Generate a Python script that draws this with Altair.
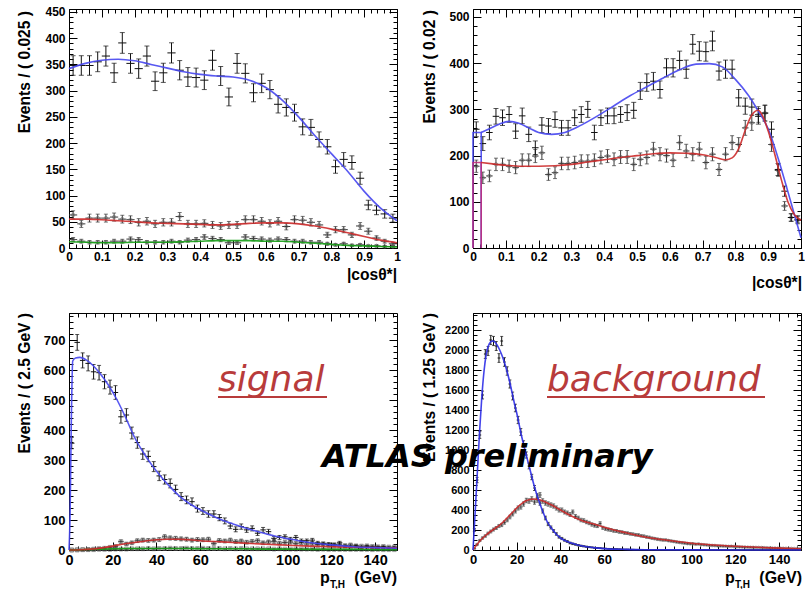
import math
import altair as alt
import pandas as pd

AX_FONT = "Liberation Sans"
ANN_FONT = "DejaVu Sans"
BLUE = "#4646f0"
RED = "#cc2a2a"
GREEN = "#15a015"
ANN_RED = "#b83b3b"
BAR_A = "#111111"
BAR_B = "#3a3a3a"
MARK_B = "#666666"

# ---------------- Panel 1: |cos theta*|, bins of 0.025 ----------------
p1_bin = 0.025
p1_data_total = [348, 348, 348, 355, 366, 334, 391, 352, 342, 366, 318, 334, 372, 339, 326, 325, 320, 358, 328, 288,
                 352, 333, 296, 314, 302, 274, 268, 258, 231, 230, 207, 193, 155, 169, 163, 133, 82, 72, 65, 57]
p1_data_red = [63, 46, 57, 57, 57, 59, 55, 54, 49, 51, 46, 49, 49, 60, 46, 46, 47, 44, 42, 44,
               44, 54, 54, 51, 47, 51, 41, 54, 53, 49, 44, 25, 35, 35, 25, 42, 32, 19, 13, 8]
p1_data_green = [16, 13, 11, 11, 11, 13, 13, 17, 16, 11, 11, 11, 13, 11, 15, 16, 21, 18, 16, 10,
                 10, 21, 18, 17, 15, 17, 16, 13, 13, 11, 11, 8, 6, 8, 5, 6, 4, 4, 3, 3]
p1_curve_x = [0, 0.05, 0.1, 0.15, 0.2, 0.25, 0.3, 0.35, 0.4, 0.45, 0.5, 0.55, 0.6, 0.65, 0.7, 0.75, 0.8, 0.85, 0.9, 0.95, 1.0]
p1_curve_blue = [342, 352, 358, 360, 357, 350, 343, 336, 331, 328, 326, 320, 306, 282, 250, 214, 180, 146, 108, 76, 52]
p1_curve_red = [55, 55, 54, 52, 50, 48, 47, 46, 45, 44, 45, 47, 48, 48, 46, 42, 36, 29, 22, 15, 10]
p1_curve_green = [12, 11, 10, 10, 11, 11, 11, 12, 13, 14, 14, 14, 13, 13, 11, 9, 7, 5, 4, 3, 2]

# ---------------- Panel 2: |cos theta*|, bins of 0.02 ----------------
p2_bin = 0.02
p2_data_total = [257, 226, 250, 285, 282, 289, 253, 286, 246, 217, 266, 264, 278, 260, 260, 282, 289, 300, 250, 282,
                 286, 286, 289, 293, 298, 340, 358, 361, 343, 390, 390, 406, 387, 441, 426, 425, 448, 383, 387, 387,
                 325, 307, 305, 285, 292, 257, 170, 123, 66, 62]
p2_data_red = [177, 152, 156, 181, 181, 177, 174, 190, 190, 199, 206, 159, 163, 183, 183, 185, 188, 188, 190, 196,
               199, 192, 197, 197, 181, 192, 196, 214, 203, 200, 190, 228, 210, 203, 214, 185, 203, 170, 203, 228,
               224, 260, 271, 289, 292, 224, 168, 91, 66, 60]
p2_blue_x = [0.025, 0.05, 0.08, 0.11, 0.14, 0.17, 0.2, 0.24, 0.28, 0.33, 0.38, 0.43, 0.48, 0.53, 0.58, 0.63, 0.68,
             0.72, 0.76, 0.8, 0.84, 0.87, 0.9, 0.93, 0.96, 0.98, 1.0]
p2_blue_y = [250, 258, 268, 274, 270, 260, 250, 246, 250, 266, 286, 308, 330, 349, 368, 386, 398,
             399, 392, 365, 330, 296, 258, 195, 122, 72, 22]
p2_red_x = [0.025, 0.06, 0.1, 0.15, 0.2, 0.25, 0.3, 0.35, 0.4, 0.45, 0.5, 0.55, 0.6, 0.65, 0.7, 0.74, 0.77, 0.79,
            0.81, 0.83, 0.85, 0.87, 0.88, 0.9, 0.92, 0.94, 0.96, 0.98, 1.0]
p2_red_y = [185, 182, 179, 177, 177, 178, 181, 186, 191, 196, 200, 204, 206, 205, 202, 196, 191, 195,
            215, 255, 288, 298, 290, 253, 203, 148, 100, 72, 60]
p2_spike_x = [0, 0, 0.025, 0.025]
p2_spike_blue = [0, 250, 250, 0]
p2_spike_red = [0, 185, 185, 0]

# ---------------- Panel 3: pT,H signal, bins of 2.5 GeV ----------------
p3_bin = 2.5
p3_data_total = [356, 692, 632, 622, 594, 591, 561, 543, 525, 444, 450, 390, 358, 320, 312, 278, 247, 235, 222, 202,
                 178, 167, 161, 138, 130, 120, 120, 108, 97, 80, 69, 78, 67, 72, 56, 67, 61, 39, 42, 44,
                 36, 42, 31, 31, 33, 24, 22, 20, 17, 24, 13, 11, 13, 9, 11, 9, 9, 9, 7, 7]
p3_data_red = [0, 1, 1, 2, 3, 5, 6, 9, 12, 28, 20, 24, 31, 33, 32, 33, 35, 44, 40, 39,
               37, 36, 33, 35, 34, 36, 22, 32, 30, 33, 28, 30, 26, 29, 31, 24, 27, 28, 23, 25,
               26, 22, 24, 20, 21, 18, 19, 17, 18, 16, 15, 17, 14, 13, 14, 12, 11, 12, 10, 10]
p3_data_green = [0, 0, 1, 1, 1, 2, 2, 2, 3, 3, 3, 4, 4, 4, 5, 4, 5, 5, 6, 5,
                 5, 6, 5, 5, 6, 5, 5, 5, 4, 5, 4, 5, 4, 4, 4, 4, 4, 3, 4, 3,
                 3, 3, 3, 3, 3, 2, 3, 2, 2, 2, 2, 2, 2, 2, 2, 1, 2, 1, 1, 1]
p3_blue_x = [0, 0.5, 1, 1.7, 3, 5, 8, 11, 14, 18, 22, 26, 30, 34, 38, 42, 46, 50, 55, 60, 65, 70, 75, 80, 85, 90,
             95, 100, 105, 110, 120, 130, 140, 150]
p3_blue_y = [0, 120, 400, 630, 640, 642, 633, 615, 590, 550, 500, 440, 375, 325, 282, 245, 212, 183, 155, 134, 116,
             100, 87, 75, 64, 54, 45, 38, 31, 25, 17, 11, 8, 6]
p3_rg_x = [0, 5, 10, 15, 20, 25, 30, 35, 40, 45, 50, 55, 60, 70, 80, 90, 100, 110, 120, 130, 140, 150]
p3_red_y = [0, 1, 3, 7, 13, 20, 25, 30, 34, 36, 36, 34, 31, 27, 23, 19, 16, 13, 11, 9, 8, 7]
p3_green_y = [0, 1, 2, 3, 4, 5, 5, 5, 5, 5, 5, 5, 4, 4, 4, 3, 3, 2, 2, 2, 1, 1]

# ---------------- Panel 4: pT,H background, bins of 1.25 GeV ----------------
p4_bin = 1.25
p4_data_blue = [200, 700, 1150, 1550, 1960, 1990, 2100, 2090, 2040, 1920,
                2090, 1880, 1790, 1660, 1540, 1420, 1300, 1180, 1060, 950,
                840, 730, 620, 540, 470, 390, 320, 260, 225, 190,
                160, 130, 115, 98, 85, 70, 62, 55, 48, 42,
                37, 33, 29, 26, 22, 20, 18, 16, 14, 12,
                11, 10, 9, 8, 7, 6, 6, 5, 5, 4,
                4, 3, 3, 3, 2, 2, 2, 2, 2, 1,
                1, 1, 1, 1, 1, 1, 1, 0, 1, 0,
                0, 1, 0, 0, 1, 0, 0, 0, 0, 0,
                0, 0, 0, 0, 0, 0, 0, 0, 0, 0,
                0, 0, 0, 0, 0, 0, 0, 0, 0, 0,
                0, 0, 0, 0, 0, 0, 0, 0, 0, 0]
p4_data_red = [15, 55, 95, 120, 140, 165, 185, 205, 220, 240,
               250, 275, 300, 330, 360, 390, 420, 430, 460, 495,
               490, 510, 480, 500, 550, 490, 470, 460, 450, 440,
               420, 400, 400, 380, 370, 355, 380, 335, 320, 300,
               295, 280, 270, 255, 245, 240, 265, 222, 212, 205,
               200, 192, 190, 182, 178, 170, 168, 162, 158, 152,
               150, 142, 138, 130, 126, 118, 114, 108, 104, 100,
               100, 94, 90, 85, 80, 76, 72, 68, 64, 62,
               62, 58, 60, 54, 52, 50, 47, 45, 44, 41,
               40, 39, 38, 36, 37, 34, 33, 31, 30, 29,
               28, 27, 26, 25, 25, 24, 23, 22, 21, 20,
               19, 18, 18, 17, 16, 15, 15, 14, 13, 13]
p4_blue_x = [0, 1, 2, 3, 4, 5, 6, 7, 8, 9, 10, 11, 12, 13, 14, 15, 16, 17, 18, 19, 20, 22, 24, 26, 28, 30, 32, 34,
             36, 38, 40, 42, 45, 50, 55, 60, 70, 80, 100, 150]
p4_blue_y = [0, 380, 780, 1180, 1520, 1780, 1950, 2040, 2080, 2090, 2080, 2050, 2010, 1960, 1900, 1830, 1750, 1660,
             1560, 1460, 1370, 1160, 980, 810, 640, 500, 380, 280, 215, 160, 120, 95, 70, 40, 24, 14, 6, 3, 1, 0]
p4_red_x = [0, 2, 4, 6, 8, 10, 12, 14, 16, 18, 20, 22, 24, 26, 28, 30, 32, 34, 36, 40, 45, 50, 55, 60, 65, 70, 80,
            90, 100, 110, 120, 130, 140, 150]
p4_red_y = [0, 60, 110, 150, 185, 215, 245, 285, 330, 375, 420, 460, 490, 505, 510, 505, 490, 470, 450, 400, 340,
            293, 262, 228, 197, 172, 125, 95, 68, 50, 37, 27, 19, 13]


# ---------------- helpers ----------------
def scales(xdom, ydom):
    return (alt.Scale(domain=xdom, nice=False, zero=False),
            alt.Scale(domain=ydom, nice=False, zero=False))


def tick_axis(orient, values, length, labels=False, size=12, pad=3, fmt="d"):
    kw = dict(orient=orient, values=values, grid=True, gridColor="black", gridOpacity=1,
              gridWidth=1, gridDash=[length, 4000], ticks=False, tickSize=0, domain=False,
              labels=labels, title=None)
    if labels:
        kw.update(labelFont=AX_FONT, labelFontSize=size, labelFontWeight="bold", labelColor="black",
                  labelPadding=pad, labelFlush=False, labelOverlap=False, format=fmt)
    return alt.Axis(**kw)


def frame_layers(xs, ys, xdom, ydom, xmaj, xmin, ymaj, ymin, xsize, ysize, xfmt):
    carrier = pd.DataFrame({"x": [xdom[0]], "y": [ydom[0]]})
    specs = [("bottom", xmaj, 8, "left", ymaj, 8, True),
             ("bottom", xmin, 4, "left", ymin, 4, False),
             ("top", xmaj, 8, "right", ymaj, 8, False),
             ("top", xmin, 4, "right", ymin, 4, False)]
    out = []
    for xo, xv, xl, yo, yv, yl, lab in specs:
        out.append(alt.Chart(carrier).mark_point(opacity=0).encode(
            x=alt.X("x:Q", scale=xs, axis=tick_axis(xo, xv, xl, lab, xsize, 3, xfmt)),
            y=alt.Y("y:Q", scale=ys, axis=tick_axis(yo, yv, yl, lab, ysize, 4, "d"))))
    return out


def bars_df(values, binw):
    rows = []
    for i, v in enumerate(values):
        c = binw * (i + 0.5)
        e = math.sqrt(v)  # Poisson error of the bin content
        rows.append({"x": c, "xl": c - binw / 2, "xh": c + binw / 2, "v": v,
                     "lo": max(v - e, 0), "hi": v + e})
    return pd.DataFrame(rows)


def err_layers(df, xs, ys, color, cap, marker=None, mcolor=None, msize=14):
    X = lambda f: alt.X(f, type="quantitative", scale=xs, axis=None)
    Y = lambda f: alt.Y(f, type="quantitative", scale=ys, axis=None)
    base = alt.Chart(df)
    out = [
        base.mark_rule(color=color, strokeWidth=1).encode(x=X("xl"), x2="xh", y=Y("v")),
        base.mark_rule(color=color, strokeWidth=1).encode(x=X("x"), y=Y("lo"), y2="hi"),
        base.mark_tick(color=color, orient="horizontal", size=cap, thickness=1).encode(x=X("x"), y=Y("lo")),
        base.mark_tick(color=color, orient="horizontal", size=cap, thickness=1).encode(x=X("x"), y=Y("hi")),
    ]
    if marker:
        out.append(base.mark_point(shape=marker, filled=False, size=msize, color=mcolor,
                                   strokeWidth=0.9).encode(x=X("x"), y=Y("v")))
    return out


def curve(xv, yv, color, xs, ys, width=1.6, interp="monotone"):
    df = pd.DataFrame({"x": xv, "y": yv, "i": list(range(len(xv)))})
    return alt.Chart(df).mark_line(color=color, strokeWidth=width, interpolate=interp, opacity=0.9).encode(
        x=alt.X("x:Q", scale=xs, axis=None), y=alt.Y("y:Q", scale=ys, axis=None), order="i:Q")


def label(text, x, y, size, align="left", baseline="alphabetic", font=AX_FONT, weight="bold",
          style="normal", color="black", angle=0):
    return alt.Chart(pd.DataFrame({"t": [text]})).mark_text(
        align=align, baseline=baseline, font=font, fontSize=size, fontWeight=weight,
        fontStyle=style, color=color, angle=angle).encode(x=alt.value(x), y=alt.value(y), text="t:N")


def underline(x1, x2, y, color):
    return alt.Chart(pd.DataFrame({"a": [0]})).mark_rule(color=color, strokeWidth=2).encode(
        x=alt.value(x1), x2=alt.value(x2), y=alt.value(y))


def ytitle(text, x, y):
    return label(text, x, y, 15.6, align="right", baseline="middle", angle=270)


W = 328
H_TOP = 239
H_BOT = 237

cos_major = [round(i * 0.1, 3) for i in range(11)]
cos_minor = [round(i * 0.02, 3) for i in range(51)]
pt_major = list(range(0, 141, 20))
pt_minor = list(range(0, 150, 4))

# ---------------- Panel 1 ----------------
xs, ys = scales([0, 1], [0, 455.7])
L = frame_layers(xs, ys, [0, 1], [0, 455.7], cos_major, cos_minor,
                 list(range(0, 451, 50)), list(range(0, 451, 10)), 12, 12, ".1~f")
L += err_layers(bars_df(p1_data_green, p1_bin), xs, ys, BAR_B, 4, "circle", MARK_B, 12)
L += err_layers(bars_df(p1_data_red, p1_bin), xs, ys, BAR_B, 4, "circle", MARK_B, 12)
L += err_layers(bars_df(p1_data_total, p1_bin), xs, ys, BAR_A, 5)
L += [curve(p1_curve_x, p1_curve_green, GREEN, xs, ys),
      curve(p1_curve_x, p1_curve_red, RED, xs, ys),
      curve(p1_curve_x, p1_curve_blue, BLUE, xs, ys)]
L += [ytitle("Events / ( 0.025 )", -44, 2),
      label("|cos\u03b8*|", 328, 271, 15.6, align="right")]
p1 = alt.layer(*L).resolve_axis(x="independent", y="independent").properties(width=W, height=H_TOP)

# ---------------- Panel 2 ----------------
xs, ys = scales([0, 1], [0, 517.3])
L = frame_layers(xs, ys, [0, 1], [0, 517.3], cos_major, cos_minor,
                 list(range(0, 501, 100)), list(range(0, 501, 20)), 12, 12, ".1~f")
L += err_layers(bars_df(p2_data_red, p2_bin), xs, ys, BAR_B, 4, "circle", MARK_B, 12)
L += err_layers(bars_df(p2_data_total, p2_bin), xs, ys, BAR_A, 5)
L += [curve(p2_spike_x, p2_spike_blue, BLUE, xs, ys, interp="linear"),
      curve(p2_blue_x, p2_blue_y, BLUE, xs, ys),
      curve(p2_spike_x, p2_spike_red, "#c0307a", xs, ys, interp="linear"),
      curve(p2_red_x, p2_red_y, RED, xs, ys)]
L += [ytitle("Events / ( 0.02 )", -43, 1),
      label("|cos\u03b8*|", 329, 279, 15.6, align="right")]
p2 = alt.layer(*L).resolve_axis(x="independent", y="independent").properties(width=W, height=H_TOP)

# ---------------- Panel 3 ----------------
xs, ys = scales([0, 150], [0, 790])
L = frame_layers(xs, ys, [0, 150], [0, 790], pt_major, pt_minor,
                 list(range(0, 701, 100)), list(range(0, 781, 20)), 14.5, 13, "d")
L += err_layers(bars_df(p3_data_green, p3_bin), xs, ys, BAR_B, 3, "square", MARK_B, 14)
L += err_layers(bars_df(p3_data_red, p3_bin), xs, ys, BAR_B, 3, "square", MARK_B, 14)
L += err_layers(bars_df(p3_data_total, p3_bin), xs, ys, BAR_A, 4)
L += [curve(p3_rg_x, p3_green_y, GREEN, xs, ys),
      curve(p3_rg_x, p3_red_y, RED, xs, ys),
      curve(p3_blue_x, p3_blue_y, BLUE, xs, ys)]
L += [ytitle("Events / ( 2.5 GeV )", -44, 0),
      label("p", 251, 270, 16),
      label("T,H", 261, 275, 10),
      label("(GeV)", 328, 270, 16, align="right"),
      label("signal", 149, 78, 36, font=ANN_FONT, weight="normal", style="italic", color=ANN_RED),
      underline(149, 258, 84, ANN_RED)]
p3 = alt.layer(*L).resolve_axis(x="independent", y="independent").properties(width=W, height=H_BOT)

# ---------------- Panel 4 ----------------
xs, ys = scales([0, 150], [0, 2370])
L = frame_layers(xs, ys, [0, 150], [0, 2370], pt_major, pt_minor,
                 list(range(0, 2201, 200)), list(range(0, 2351, 50)), 13, 11, "d")
L += err_layers(bars_df(p4_data_red, p4_bin), xs, ys, BAR_B, 3, "circle", "#8a8a8a", 8)
L += err_layers(bars_df(p4_data_blue, p4_bin), xs, ys, BAR_A, 3)
L += [curve(p4_red_x, p4_red_y, RED, xs, ys),
      curve(p4_blue_x, p4_blue_y, "#2f2fe8", xs, ys)]
L += [ytitle("Events / ( 1.25 GeV )", -43, 0),
      label("p", 252, 270, 16),
      label("T,H", 262, 275, 10),
      label("(GeV)", 329, 270, 16, align="right"),
      label("background", 74, 78, 36, font=ANN_FONT, weight="normal", style="italic", color=ANN_RED),
      underline(74, 292, 84, ANN_RED),
      label("ATLAS preliminary", -151, 154, 32, font=ANN_FONT, weight="bold", style="italic")]
p4 = alt.layer(*L).resolve_axis(x="independent", y="independent").properties(width=W, height=H_BOT)

chart = alt.concat(p1, p2, p3, p4, columns=2, spacing=alt.RowColnumber(row=65, column=76),
                   bounds="flush").properties(
    autosize=alt.AutoSizeParams(type="none"),
    padding={"left": 69, "top": 9, "right": 736, "bottom": 580},
    background="white",
).configure_view(stroke="black", strokeWidth=1)

chart.save("out.html", embed_options={"renderer": "svg", "actions": False})
